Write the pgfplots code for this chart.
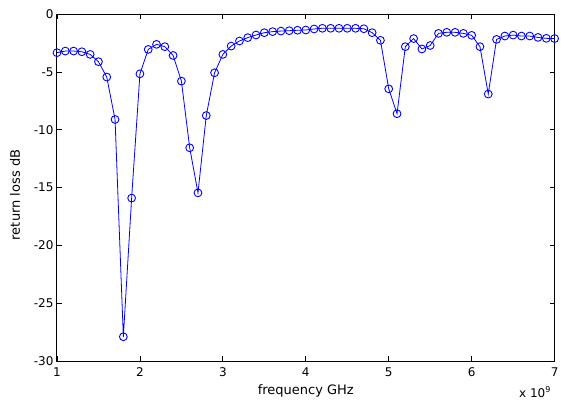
\documentclass[border=0pt]{standalone}
\usepackage{fontspec}
\setmainfont{DejaVu Sans}
\usepackage{pgfplots}
\pgfplotsset{compat=1.18}

\begin{document}
\begin{tikzpicture}
\begin{axis}[
  scale only axis,
  width=497.6pt,height=346.7pt,
  xmin=1,xmax=7,ymin=-30,ymax=0,
  xtick={1,...,7},ytick={-30,-25,...,0},
  /pgf/number format/assume math mode=true,
  tick label style={font=\fontsize{12}{14}\selectfont},
  xticklabel style={yshift=-3pt},
  label style={font=\fontsize{13}{15}\selectfont},
  xlabel={frequency GHz},ylabel={return loss dB},
  xlabel style={at={(axis description cs:0.5,-0.098)},anchor=base},
  ylabel style={at={(axis description cs:-0.067,0.479)},anchor=south},
  major tick length=5pt,
  axis line style={line width=1pt},
  every tick/.style={black,line width=0.8pt},
]
\addplot[blue,line width=0.8pt,mark=o,mark size=3.9pt,mark options={line width=0.9pt}] coordinates {
  (1.0,-3.32) (1.1,-3.18) (1.2,-3.18) (1.3,-3.24) (1.4,-3.47)
  (1.5,-4.10) (1.6,-5.43) (1.7,-9.10) (1.8,-27.9) (1.9,-15.9)
  (2.0,-5.15) (2.1,-3.04) (2.2,-2.60) (2.3,-2.80) (2.4,-3.56)
  (2.5,-5.78) (2.6,-11.55) (2.7,-15.45) (2.8,-8.76) (2.9,-5.06)
  (3.0,-3.47) (3.1,-2.75) (3.2,-2.31) (3.3,-2.02) (3.4,-1.79)
  (3.5,-1.59) (3.6,-1.50) (3.7,-1.45) (3.8,-1.42) (3.9,-1.38)
  (4.0,-1.36) (4.1,-1.27) (4.2,-1.21) (4.3,-1.21) (4.4,-1.21)
  (4.5,-1.21) (4.6,-1.21) (4.7,-1.25) (4.8,-1.59) (4.9,-2.25)
  (5.0,-6.45) (5.1,-8.60) (5.2,-2.80) (5.3,-2.10) (5.4,-3.00)
  (5.5,-2.70) (5.6,-1.65) (5.7,-1.56) (5.8,-1.56) (5.9,-1.65)
  (6.0,-1.82) (6.1,-2.80) (6.2,-6.90) (6.3,-2.17) (6.4,-1.88)
  (6.5,-1.80) (6.6,-1.88) (6.7,-1.88) (6.8,-2.00) (6.9,-2.08)
  (7.0,-2.10)};
\end{axis}
% multiplier label below the right end of the x axis
\node[anchor=base west,font=\fontsize{12}{14}\selectfont,inner sep=0pt,black]
  at ([shift={(462pt,-36pt)}]current axis.south west) {x 10\textsuperscript{9}};
\pgfresetboundingbox
\path[use as bounding box] (current axis.south west) ++(-57pt,-39pt) rectangle ++(561pt,400pt);
\end{tikzpicture}
\end{document}
